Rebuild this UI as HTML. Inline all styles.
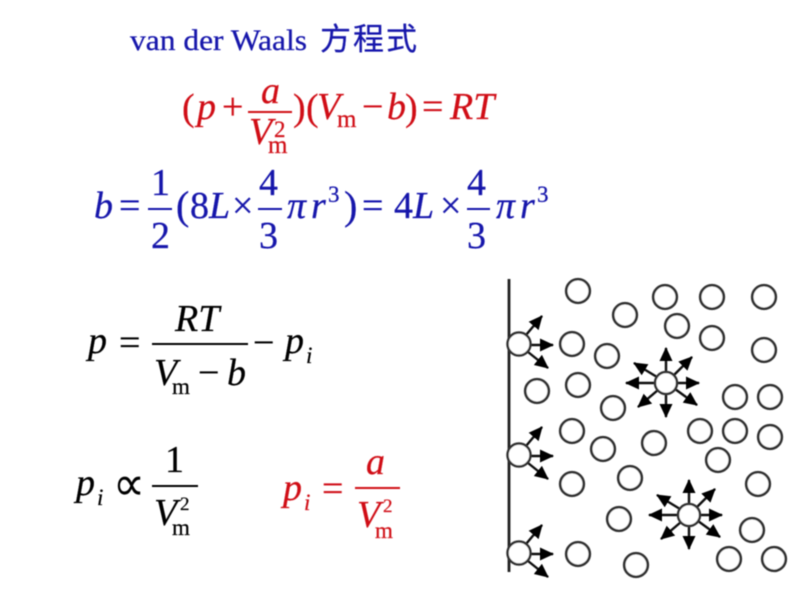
<!DOCTYPE html>
<html><head><meta charset="utf-8"><style>
html,body{margin:0;padding:0;background:#fff;width:800px;height:594px;overflow:hidden}
svg{display:block}
text{font-family:"Liberation Serif","Noto Serif CJK SC",serif;stroke-width:.22px}
.i{font-style:italic}
.b{fill:#1212aa;stroke:#1212aa}.r{fill:#d01018;stroke:#d01018}.k{fill:#000;stroke:#000}
.b text,.r text,.k text{font-size:38px}
.b text.s,.r text.s,.k text.s{font-size:23px}
.b text.t,.r text.t{font-size:25px}
.b text.u,.r text.u,.k text.u{font-size:19px}
.b rect,.r rect,.k rect{stroke:none}
</style></head><body>
<svg width="800" height="594" viewBox="0 0 800 594" xmlns="http://www.w3.org/2000/svg">
<defs>
<filter id="f" x="-5%" y="-5%" width="110%" height="110%"><feGaussianBlur stdDeviation="0.45"/></filter>
<marker id="h" markerUnits="userSpaceOnUse" markerWidth="15" markerHeight="14" refX="13" refY="6.5" orient="auto"><path d="M0,0L14,6.5L0,13z" fill="#000"/></marker>
<circle id="c" r="11.8" fill="#fff" stroke="#333" stroke-width="2.7"/>
<g id="w" stroke="#111" stroke-width="2.4">
<line x1="7" y1="-9" x2="23" y2="-28" marker-end="url(#h)"/>
<line x1="11" y1="1" x2="34" y2="1" marker-end="url(#h)"/>
<line x1="9" y1="8" x2="29" y2="24" marker-end="url(#h)"/>
<circle r="11.5" fill="#fff" stroke="#333" stroke-width="2.5"/>
</g>
<g id="st" stroke="#111" stroke-width="2.4">
<line x1="0" y1="-10" x2="0" y2="-35" marker-end="url(#h)"/>
<line x1="8" y1="-8" x2="26" y2="-26" marker-end="url(#h)"/>
<line x1="11" y1="0" x2="33" y2="0" marker-end="url(#h)"/>
<line x1="9" y1="6" x2="31" y2="22" marker-end="url(#h)"/>
<line x1="0" y1="10" x2="0" y2="34" marker-end="url(#h)"/>
<line x1="-8" y1="7" x2="-28" y2="24" marker-end="url(#h)"/>
<line x1="-11" y1="0" x2="-40" y2="0" marker-end="url(#h)"/>
<line x1="-9" y1="-6" x2="-32" y2="-20" marker-end="url(#h)"/>
<circle r="11" fill="#fff" stroke="#333" stroke-width="2.5"/>
</g>
</defs>
<rect width="800" height="594" fill="#fff"/>
<g filter="url(#f)">
<!-- title -->
<g class="b">
<text x="130" y="50" style="font-size:30px" textLength="177" lengthAdjust="spacingAndGlyphs">van der Waals</text>
<text x="320" y="50" style="font-size:31px;font-family:'Noto Sans CJK SC',sans-serif" textLength="97">方程式</text>
</g>
<!-- eq 1 -->
<g class="r">
<text x="182" y="120">(</text><text x="197" y="119" class="i">p</text><text x="222" y="119">+</text>
<text x="261" y="103" class="i">a</text>
<rect x="248" y="111" width="44" height="2"/>
<text x="249" y="144" class="i">V</text><text x="274" y="137" class="s">2</text><text x="268" y="153" class="t">m</text>
<text x="293" y="120">)</text><text x="306" y="120">(</text><text x="317" y="119" class="i">V</text>
<text x="337" y="127" class="t">m</text><text x="362" y="119">−</text><text x="387" y="119" class="i">b</text>
<text x="405" y="120">)</text><text x="422" y="119">=</text><text x="450" y="119" class="i">RT</text>
</g>
<!-- eq 2 -->
<g class="b">
<text x="94" y="218" class="i">b</text><text x="119" y="218">=</text>
<text x="151" y="195">1</text><rect x="148" y="208" width="24" height="2"/><text x="151" y="248">2</text>
<text x="176" y="219" style="font-size:40px">(</text><text x="190" y="218">8</text><text x="209" y="218" class="i">L</text>
<text x="232" y="218">×</text>
<text x="259" y="195">4</text><rect x="258" y="208" width="24" height="2"/><text x="259" y="248">3</text>
<text x="287" y="218" class="i">π</text><text x="311" y="218" class="i">r</text><text x="328" y="202" class="s">3</text>
<text x="344" y="219" style="font-size:40px">)</text><text x="362" y="218">=</text>
<text x="394" y="218">4</text><text x="413" y="218" class="i">L</text><text x="440" y="218">×</text>
<text x="467" y="195">4</text><rect x="467" y="208" width="23" height="2"/><text x="467" y="248">3</text>
<text x="496" y="218" class="i">π</text><text x="520" y="218" class="i">r</text><text x="537" y="202" class="s">3</text>
</g>
<!-- eq 3 -->
<g class="k">
<text x="88" y="353" class="i">p</text><text x="119" y="355">=</text>
<text x="175" y="331" class="i">RT</text><rect x="152" y="343" width="96" height="2"/>
<text x="154" y="385" class="i">V</text><text x="172" y="394" class="s">m</text><text x="198" y="385">−</text><text x="227" y="385" class="i">b</text>
<text x="253" y="355">−</text><text x="285" y="353" class="i">p</text><text x="306" y="363" class="s i">i</text>
</g>
<!-- eq 4 -->
<g class="k">
<text x="76" y="495" class="i">p</text><text x="97" y="505" class="s i">i</text>
<text x="113" y="500" style="font-size:48px;font-family:'DejaVu Sans',sans-serif;stroke-width:0" textLength="32" lengthAdjust="spacingAndGlyphs">∝</text>
<text x="165" y="472">1</text><rect x="152" y="485" width="46" height="2"/>
<text x="154" y="525" class="i">V</text><text x="180" y="510" class="u">2</text><text x="172" y="535" class="s">m</text>
</g>
<g class="r">
<text x="283" y="500" class="i">p</text><text x="304" y="510" class="s i">i</text><text x="322" y="501">=</text>
<text x="366" y="474" class="i">a</text><rect x="355" y="487" width="45" height="2"/>
<text x="357" y="527" class="i">V</text><text x="383" y="512" class="u">2</text><text x="375" y="538" class="s">m</text>
</g>
<!-- wall -->
<line x1="509" y1="279" x2="509" y2="572" stroke="#222" stroke-width="2.8"/>
<use href="#w" x="519" y="344"/><use href="#w" x="519" y="455"/><use href="#w" x="519" y="553"/>
<use href="#st" x="666" y="383"/><use href="#st" x="689" y="515"/>
<use href="#c" x="578" y="291"/><use href="#c" x="625" y="315"/><use href="#c" x="665" y="297"/>
<use href="#c" x="712" y="297"/><use href="#c" x="764" y="297"/><use href="#c" x="677" y="326"/>
<use href="#c" x="712" y="338"/><use href="#c" x="764" y="350"/><use href="#c" x="572" y="344"/>
<use href="#c" x="607" y="356"/><use href="#c" x="537" y="391"/><use href="#c" x="578" y="385"/>
<use href="#c" x="613" y="408"/><use href="#c" x="735" y="397"/><use href="#c" x="770" y="397"/>
<use href="#c" x="572" y="431"/><use href="#c" x="603" y="449"/><use href="#c" x="654" y="443"/>
<use href="#c" x="700" y="431"/><use href="#c" x="735" y="431"/><use href="#c" x="770" y="437"/>
<use href="#c" x="718" y="460"/><use href="#c" x="572" y="484"/><use href="#c" x="630" y="478"/>
<use href="#c" x="758" y="484"/><use href="#c" x="619" y="519"/><use href="#c" x="752" y="530"/>
<use href="#c" x="578" y="554"/><use href="#c" x="636" y="565"/><use href="#c" x="729" y="559"/>
<use href="#c" x="774" y="559"/>
</g>
</svg>
</body></html>
